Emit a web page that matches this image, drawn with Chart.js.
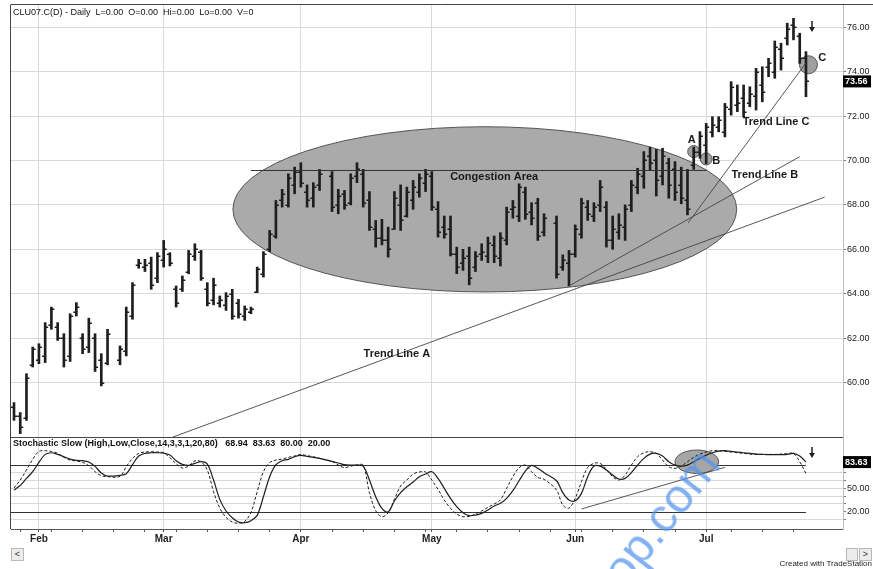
<!DOCTYPE html>
<html>
<head>
<meta charset="utf-8">
<script src="https://cdn.jsdelivr.net/npm/chart.js@4.4.1/dist/chart.umd.min.js"></script>
<style>
  html, body { margin: 0; padding: 0; background: #fff; }
  #wrap { position: relative; width: 873px; height: 569px; overflow: hidden; font-family: "Liberation Sans", Arial, sans-serif; }
  canvas { position: absolute; left: 0; }
  #price { top: 0; }
  #stoch { top: 437px; }
  .btn { position: absolute; top: 548px; height: 11px; background: #ececec; border: 1px solid #b8b8b8; font-size: 9px; line-height: 11px; text-align: center; color: #333; }
  #credit { position: absolute; right: 1px; top: 559px; font-size: 8px; color: #222; }
  #mark { position: absolute; left: 626px; top: 590px; font: 48px "Liberation Sans", sans-serif; line-height: 48px; color: rgba(80, 145, 235, 0.7); transform-origin: 0 0; transform: rotate(-52deg) translateY(-41px); white-space: nowrap; pointer-events: none; }
</style>
</head>
<body>
<div id="wrap">
  <canvas id="price" width="873" height="437"></canvas>
  <canvas id="stoch" width="873" height="132"></canvas>
  <div class="btn" style="left:11px;width:11px;">&lt;</div>
  <div class="btn" style="left:846px;width:10px;"></div>
  <div class="btn" style="left:859px;width:11px;">&gt;</div>
  <div id="credit">Created with TradeStation</div>
  <div id="mark">op.com</div>
</div>
<script>
// trading days shown on the chart (holidays kept as empty slots)
const monthNames = ['Jan', 'Feb', 'Mar', 'Apr', 'May', 'Jun', 'Jul'];
const monthDays = {
    Jan: [26, 29, 30, 31],
    Feb: [1, 2, 5, 6, 7, 8, 9, 12, 13, 14, 15, 16, 19, 20, 21, 22, 23, 26, 27, 28],
    Mar: [1, 2, 5, 6, 7, 8, 9, 12, 13, 14, 15, 16, 19, 20, 21, 22, 23, 26, 27, 28, 29, 30],
    Apr: [2, 3, 4, 5, 6, 9, 10, 11, 12, 13, 16, 17, 18, 19, 20, 23, 24, 25, 26, 27, 30],
    May: [1, 2, 3, 4, 7, 8, 9, 10, 11, 14, 15, 16, 17, 18, 21, 22, 23, 24, 25, 28, 29, 30, 31],
    Jun: [1, 4, 5, 6, 7, 8, 11, 12, 13, 14, 15, 18, 19, 20, 21, 22, 25, 26, 27, 28, 29],
    Jul: [2, 3, 5, 6, 9, 10, 11, 12, 13, 16, 17, 18, 19, 20, 23, 24, 25]
};

const highs = [
    59.1, 58.65, 60.4, 61.6, 61.75, 62.7, 63.4, 62.7, 62.2, 63.1,
    63.6, 62.2, 62.9, 62.2, 61.3, 62.4, null, 61.65, 63.4, 64.5,
    65.55, 65.55, 65.65, 65.85, 66.4, 65.85, 64.35, 64.8, 65.95, 66.25,
    65.95, 64.5, 64.7, 63.9, 64.05, 64.2, 63.75, 63.45, 63.4, 65.2,
    65.9, 66.85, 68.2, 68.7, 69.4, 69.7, 69.9, 68.9, 69.0, 69.6,
    null, 69.5, 68.7, 68.65, 69.4, 69.9, 69.6, 68.6, 67.3, 67.35,
    67.0, 68.6, 68.9, 68.8, 69.1, 69.4, 69.6, 69.5, 68.15, 67.5,
    67.5, 66.1, 66.0, 66.1, 65.9, 66.25, 66.55, 66.6, 66.75, 67.9,
    68.2, 68.95, 68.8, 68.1, 68.3, 67.6, null, 67.5, 65.75, 65.95,
    67.1, 68.3, 68.2, 68.1, 69.1, 68.15, 67.5, 67.6, 68.0, 69.1,
    69.65, 70.4, 70.6, 70.5, 70.55, 70.1, 69.95, 69.7, 69.6, 70.6,
    71.3, 71.67, 71.97, 71.97, 72.57, 73.55, 73.4, 73.4, 73.32, 74.15,
    74.22, 74.6, 75.38, 75.28, 76.18, 76.4, 75.73, 74.9
];
const lows = [
    58.3, 57.7, 58.3, 60.7, 60.85, 60.9, 62.4, 61.9, 60.7, 60.95,
    63.0, 61.3, 61.35, 60.5, 59.85, 60.8, null, 60.8, 61.2, 62.85,
    65.15, 65.0, 64.2, 64.5, 65.2, 65.25, 63.4, 64.1, 64.9, 65.5,
    64.6, 63.45, 63.5, 63.4, 63.25, 62.85, 62.9, 62.8, 63.1, 64.05,
    64.75, 65.9, 66.5, 67.9, 67.9, 68.5, 68.8, 67.9, 67.9, 68.65,
    null, 67.7, 67.6, 67.8, 68.0, 69.0, 67.9, 66.85, 66.1, 66.2,
    65.65, 66.9, 66.85, 67.45, 67.8, 68.35, 68.6, 67.75, 66.55, 66.5,
    65.7, 64.9, 65.05, 64.4, 65.0, 65.5, 65.4, 65.4, 65.25, 66.2,
    67.4, 67.25, 67.35, 67.1, 66.4, 66.6, null, 64.7, 65.05, 64.35,
    65.65, 66.5, 67.3, 67.25, 67.7, 66.1, 66.0, 66.45, 66.4, 67.7,
    68.5, 68.75, 69.55, 68.4, 68.9, 68.3, 68.2, 68.05, 67.55, 69.6,
    70.1, 69.86, 71.06, 71.29, 71.06, 72.04, 72.2, 71.97, 72.42, 72.27,
    72.64, 73.77, 73.7, 74.07, 75.2, 75.43, 74.37, 72.87
];
const opens = [
    58.9, 58.5, 58.4, 60.8, 61.0, 61.2, 62.6, 62.5, 62.0, 61.2,
    63.2, 62.0, 61.6, 62.0, 61.0, 60.9, null, 61.0, 61.4, 63.0,
    65.3, 65.2, 65.4, 64.7, 65.5, 65.8, 64.2, 64.2, 65.0, 65.7,
    65.9, 64.2, 63.7, 63.6, 63.5, 64.0, 63.6, 63.0, 63.2, 64.1,
    64.9, 66.0, 66.6, 68.2, 68.0, 68.9, 69.5, 68.6, 68.3, 68.9,
    null, 69.3, 68.0, 68.5, 68.1, 69.3, 69.4, 68.2, 66.9, 66.5,
    66.4, 66.9, 68.0, 67.5, 68.2, 68.6, 69.0, 69.3, 67.8, 67.0,
    66.9, 65.8, 65.4, 65.7, 65.2, 65.8, 65.7, 66.2, 65.6, 66.4,
    67.8, 67.5, 68.6, 67.7, 68.1, 66.8, null, 67.2, 65.2, 65.4,
    65.8, 66.7, 67.9, 67.5, 68.0, 67.9, 66.4, 66.8, 67.0, 68.0,
    68.8, 69.3, 70.2, 70.0, 69.3, 69.9, 69.6, 68.9, 68.2, 69.8,
    70.4, 70.7, 71.3, 71.5, 71.3, 72.3, 72.5, 72.8, 72.6, 72.9,
    73.4, 74.2, 74.0, 75.0, 75.5, 76.1, 75.6, 74.6
];
const closes = [
    58.5, 58.0, 60.2, 61.5, 61.6, 62.5, 63.3, 62.0, 61.0, 63.0,
    63.4, 61.5, 62.7, 60.7, 60.0, 62.2, null, 61.5, 63.2, 64.4,
    65.4, 65.3, 64.4, 65.7, 66.0, 65.4, 63.6, 64.6, 65.8, 66.0,
    64.7, 63.6, 64.4, 63.7, 63.9, 63.0, 63.1, 63.3, 63.3, 65.1,
    65.8, 66.7, 68.0, 68.5, 69.2, 69.5, 69.0, 68.2, 68.8, 69.4,
    null, 67.9, 68.4, 68.0, 69.2, 69.6, 68.1, 67.0, 66.5, 66.4,
    66.0, 68.3, 67.3, 68.6, 68.8, 69.2, 69.4, 67.9, 66.8, 66.7,
    65.8, 65.2, 65.6, 64.7, 65.7, 65.9, 66.3, 65.7, 66.5, 67.7,
    67.9, 68.8, 67.6, 67.4, 66.6, 67.4, null, 64.9, 65.5, 65.8,
    66.9, 68.1, 67.6, 67.9, 68.8, 66.4, 66.9, 67.1, 67.8, 68.9,
    69.4, 70.0, 69.9, 69.1, 70.2, 68.9, 68.6, 68.3, 67.8, 70.4,
    71.1, 71.5, 71.6, 71.8, 72.4, 73.3, 72.6, 72.2, 73.0, 74.0,
    73.1, 74.4, 75.1, 74.6, 75.9, 76.0, 74.6, 73.56
];

// Stochastic Slow: %K (dotted) and %D (solid)
const slowK = [
    50.3, 60.6, 73.4, 87.1, 97.3, 98.2, 97.3, 94.8, 89.7, 86.2,
    85.0, 83.3, 79.0, 71.3, 66.2, 64.9, null, 65.3, 77.7, 88.4,
    94.8, 96.5, 96.9, 96.5, 95.6, 89.2, 81.5, 76.0, 78.5, 85.0,
    84.1, 73.4, 45.6, 24.7, 12.7, 6.8, 5.1, 7.6, 19.1, 45.6,
    71.3, 82.8, 86.2, 87.5, 89.7, 91.4, 93.5, 91.8, 90.5, 88.4,
    null, 84.5, 79.8, 76.4, 78.5, 79.8, 79.8, 44.4, 21.3, 13.6,
    18.7, 35.8, 52.9, 60.6, 68.3, 70.9, 70.9, 60.6, 48.6, 35.0,
    24.3, 17.0, 13.6, 14.0, 17.0, 20.9, 25.6, 29.8, 35.0, 49.9,
    64.9, 76.4, 79.8, 71.3, 64.0, 61.5, null, 47.8, 28.5, 24.7,
    37.1, 58.5, 76.8, 82.0, 82.0, 74.3, 64.9, 60.6, 67.0, 79.8,
    90.5, 95.6, 96.9, 94.8, 86.2, 77.7, 75.6, 78.5, 84.1, 89.7,
    93.9, 96.5, 98.2, 98.2, 97.3, 96.5, 95.6, 94.8, 93.9, 93.5,
    93.5, 93.5, 93.5, 93.9, 94.4, 94.8, 84.1, 68.94
];
const slowD = [
    47.8, 53.8, 62.7, 71.3, 83.3, 93.5, 95.6, 93.5, 90.5, 87.5,
    85.8, 85.4, 83.7, 78.1, 69.6, 65.7, null, 66.6, 68.7, 80.3,
    91.4, 94.8, 95.6, 95.6, 95.2, 92.6, 85.4, 80.7, 79.4, 82.0,
    84.1, 81.1, 60.6, 35.8, 20.9, 12.3, 6.8, 5.9, 8.5, 15.3,
    39.2, 64.9, 80.3, 85.4, 87.1, 90.5, 92.2, 90.9, 89.7, 88.4,
    null, 84.5, 82.4, 80.3, 79.8, 79.8, 78.5, 60.6, 39.2, 24.3,
    20.0, 33.7, 44.4, 52.0, 58.0, 64.9, 68.3, 71.3, 62.7, 49.9,
    37.1, 26.4, 18.7, 14.9, 15.7, 17.9, 22.1, 27.3, 30.7, 37.1,
    46.9, 59.7, 72.1, 79.4, 75.6, 70.0, null, 59.7, 44.4, 35.0,
    34.1, 43.5, 64.9, 78.5, 78.5, 73.4, 67.0, 61.9, 62.7, 70.0,
    79.8, 88.4, 93.9, 94.8, 91.4, 84.1, 79.8, 78.5, 79.8, 84.1,
    88.4, 92.6, 95.6, 97.8, 98.2, 97.3, 96.5, 95.6, 94.8, 93.9,
    93.5, 93.1, 93.1, 93.1, 93.5, 94.8, 91.4, 83.63
];

const priceTicks = [60, 62, 64, 66, 68, 70, 72, 74, 76];
const stochGrid = [10, 20, 30, 40, 50, 60, 70, 80];
const stochLabels = [20, 50];
const stochLevels = [20, 80];

// annotations, in bar index / price units
const congestion = { x: 75.5, y: 67.8, rx: 40.4, ry: 3.72 };
const congestionLine = { from: 38, to: 111, y: 69.55 };
const trendLines = [
    [[25.5, 57.55], [130.0, 68.35]],
    [[89, 64.35], [126, 70.17]],
    [[108.1, 67.19], [127, 74.39]]
];
const circles = [
    { x: 109, y: 70.4, r: 6 },
    { x: 111, y: 70.07, r: 6 },
    { x: 127.4, y: 74.31, r: 9 }
];
const notes = [
    { text: 'Congestion Area', x: 77.0, y: 69.25 },
    { text: 'Trend Line A', x: 61.4, y: 61.31 },
    { text: 'Trend Line B', x: 120.4, y: 69.35 },
    { text: 'Trend Line C', x: 122.2, y: 71.74 },
    { text: 'A', x: 108.7, y: 70.93 },
    { text: 'B', x: 112.6, y: 69.98 },
    { text: 'C', x: 129.6, y: 74.63 }
];
const stochEllipse = { x: 109.5, y: 84.1, rx: 3.5, ry: 15 };
const stochTrend = [[91, 23.5], [114, 76.9]];

const labels = [];
const monthStarts = [];
const mondays = [];
const monthAt = {};
monthNames.forEach((m, mi) => {
    monthDays[m].forEach((d, k) => {
        if (k === 0 && m !== 'Jan') { monthStarts.push(labels.length); monthAt[labels.length] = m; }
        if (new Date(2007, mi, d).getDay() === 1) mondays.push(labels.length);
        labels.push(m + ' ' + d);
    });
});
const xTicks = [...new Set(monthStarts.concat(mondays))].sort((a, b) => a - b);

const X_MIN = -0.48;
const X_MAX = 132.94;
const FONT = '"Liberation Sans", Arial, sans-serif';
const INK = '#1e1e1e';
const GRID = '#d9d9d9';

const bars = [];
highs.forEach((h, i) => { if (h != null) bars.push({ x: i, y: [lows[i], h] }); });
const lastClose = closes[closes.length - 1];
const lastK = slowK[slowK.length - 1];
const lastD = slowD[slowD.length - 1];

// keep the plot area exactly where the layout padding puts it
function noLabelPadding(s) {
    s.width = 30;
    s.paddingTop = 0;
    s.paddingBottom = 0;
}

function downArrow(ctx, x, y) {
    ctx.beginPath();
    ctx.moveTo(x, y);
    ctx.lineTo(x, y + 7);
    ctx.strokeStyle = INK;
    ctx.lineWidth = 1.5;
    ctx.stroke();
    ctx.beginPath();
    ctx.moveTo(x - 3, y + 6);
    ctx.lineTo(x + 3, y + 6);
    ctx.lineTo(x, y + 11);
    ctx.closePath();
    ctx.fillStyle = INK;
    ctx.fill();
}

function valueBox(ctx, text, y) {
    ctx.fillStyle = '#000';
    ctx.fillRect(843, y - 6, 28, 12);
    ctx.fillStyle = '#fff';
    ctx.font = 'bold 9px ' + FONT;
    ctx.textAlign = 'left';
    ctx.textBaseline = 'middle';
    ctx.fillText(text, 845, y + 0.5);
}

new Chart(document.getElementById('price'), {
    type: 'bar',
    data: {
        datasets: [{
            data: bars,
            backgroundColor: INK,
            borderWidth: 0,
            barThickness: 2
        }]
    },
    options: {
        responsive: false,
        animation: false,
        layout: { padding: { left: 11, top: 5, right: 0, bottom: 0 } },
        plugins: {
            legend: { display: false },
            tooltip: { enabled: false }
        },
        scales: {
            x: {
                type: 'linear',
                min: X_MIN,
                max: X_MAX,
                offset: false,
                afterBuildTicks: s => { s.ticks = monthStarts.map(v => ({ value: v })); },
                afterFit: s => { s.height = 0; },
                grid: { color: GRID, drawTicks: false, offset: false },
                border: { display: false },
                ticks: { display: false }
            },
            y: {
                position: 'right',
                min: 57.55,
                max: 77.0,
                afterBuildTicks: s => { s.ticks = priceTicks.map(v => ({ value: v })); },
                afterFit: noLabelPadding,
                grid: { color: GRID, tickLength: 3, tickColor: '#777' },
                border: { color: '#bdbdbd' },
                ticks: {
                    autoSkip: false,
                    color: '#222',
                    padding: 1,
                    font: { size: 9, family: FONT },
                    callback: v => v.toFixed(2)
                }
            }
        }
    },
    plugins: [{
        id: 'shapesBelow',
        beforeDatasetsDraw(chart) {
            const { ctx, scales: { x, y } } = chart;
            ctx.save();
            const cx = x.getPixelForValue(congestion.x);
            const cy = y.getPixelForValue(congestion.y);
            const rx = x.getPixelForValue(congestion.x + congestion.rx) - cx;
            const ry = cy - y.getPixelForValue(congestion.y + congestion.ry);
            ctx.beginPath();
            ctx.ellipse(cx, cy, rx, ry, 0, 0, Math.PI * 2);
            ctx.fillStyle = '#aaaaaa';
            ctx.fill();
            ctx.strokeStyle = '#555';
            ctx.lineWidth = 1;
            ctx.stroke();
            circles.forEach(c => {
                ctx.beginPath();
                ctx.arc(x.getPixelForValue(c.x), y.getPixelForValue(c.y), c.r, 0, Math.PI * 2);
                ctx.fillStyle = '#a0a0a0';
                ctx.fill();
                ctx.strokeStyle = '#555';
                ctx.stroke();
            });
            ctx.restore();
        }
    }, {
        id: 'ohlcTicks',
        afterDatasetsDraw(chart) {
            const { ctx, scales: { x, y } } = chart;
            ctx.save();
            ctx.strokeStyle = INK;
            ctx.lineWidth = 1.5;
            ctx.beginPath();
            highs.forEach((h, i) => {
                if (h == null) return;
                const px = x.getPixelForValue(i);
                const yo = Math.round(y.getPixelForValue(opens[i])) + 0.25;
                const yc = Math.round(y.getPixelForValue(closes[i])) + 0.25;
                ctx.moveTo(px - 3, yo);
                ctx.lineTo(px, yo);
                ctx.moveTo(px, yc);
                ctx.lineTo(px + 3, yc);
            });
            ctx.stroke();
            ctx.restore();
        }
    }, {
        id: 'shapesAbove',
        afterDraw(chart) {
            const { ctx, chartArea, scales: { x, y } } = chart;
            ctx.save();
            ctx.strokeStyle = '#333';
            ctx.lineWidth = 1;
            ctx.beginPath();
            const ly = y.getPixelForValue(congestionLine.y);
            ctx.moveTo(x.getPixelForValue(congestionLine.from), ly);
            ctx.lineTo(x.getPixelForValue(congestionLine.to), ly);
            ctx.stroke();

            ctx.strokeStyle = '#444';
            ctx.lineWidth = 0.9;
            trendLines.forEach(([a, b]) => {
                ctx.beginPath();
                ctx.moveTo(x.getPixelForValue(a[0]), y.getPixelForValue(a[1]));
                ctx.lineTo(x.getPixelForValue(b[0]), y.getPixelForValue(b[1]));
                ctx.stroke();
            });

            ctx.fillStyle = '#1a1a1a';
            ctx.font = 'bold 11px ' + FONT;
            ctx.textAlign = 'center';
            ctx.textBaseline = 'middle';
            notes.forEach(n => ctx.fillText(n.text, x.getPixelForValue(n.x), y.getPixelForValue(n.y)));

            // frame
            ctx.strokeStyle = '#444';
            ctx.lineWidth = 1;
            ctx.beginPath();
            ctx.moveTo(chartArea.left - 0.5, chartArea.top);
            ctx.lineTo(chartArea.left - 0.5, chartArea.bottom);
            ctx.moveTo(chartArea.left - 0.5, chartArea.top - 0.5);
            ctx.lineTo(873, chartArea.top - 0.5);
            ctx.stroke();

            ctx.fillStyle = '#111';
            ctx.font = '9px ' + FONT;
            ctx.textAlign = 'left';
            ctx.textBaseline = 'middle';
            ctx.fillText('CLU07.C(D) - Daily  L=0.00  O=0.00  Hi=0.00  Lo=0.00  V=0', 13, 13);

            downArrow(ctx, 812, 21);
            valueBox(ctx, lastClose.toFixed(2), y.getPixelForValue(lastClose));
            ctx.restore();
        }
    }]
});

new Chart(document.getElementById('stoch'), {
    type: 'line',
    data: {
        datasets: [{
            data: slowD.map((v, i) => ({ x: i, y: v })),
            borderColor: INK,
            borderWidth: 1.2,
            pointRadius: 0,
            tension: 0.35,
            spanGaps: true
        }, {
            data: slowK.map((v, i) => ({ x: i, y: v })),
            borderColor: INK,
            borderWidth: 1,
            borderDash: [3, 2],
            pointRadius: 0,
            tension: 0.35,
            spanGaps: true
        }]
    },
    options: {
        responsive: false,
        animation: false,
        layout: { padding: { left: 11, top: 0, right: 0, bottom: 0 } },
        plugins: {
            legend: { display: false },
            tooltip: { enabled: false }
        },
        scales: {
            x: {
                type: 'linear',
                min: X_MIN,
                max: X_MAX,
                offset: false,
                afterBuildTicks: s => { s.ticks = xTicks.map(v => ({ value: v })); },
                afterFit: s => { s.height = 40; s.paddingLeft = 0; s.paddingRight = 0; },
                grid: {
                    color: c => (c.tick && monthAt[c.tick.value]) ? GRID : 'rgba(0,0,0,0)',
                    tickColor: '#555',
                    tickLength: 3,
                    offset: false
                },
                border: { color: '#555' },
                ticks: {
                    autoSkip: false,
                    maxRotation: 0,
                    padding: 1,
                    color: '#222',
                    font: { size: 10, weight: 'bold', family: FONT },
                    callback: v => monthAt[v] || ''
                }
            },
            y: {
                position: 'right',
                min: -2.2,
                max: 115.8,
                afterBuildTicks: s => { s.ticks = stochGrid.map(v => ({ value: v })); },
                afterFit: noLabelPadding,
                grid: {
                    color: c => (c.tick && stochLevels.includes(c.tick.value)) ? 'rgba(0,0,0,0)' : GRID,
                    tickLength: 3,
                    tickColor: '#777'
                },
                border: { color: '#bdbdbd' },
                ticks: {
                    autoSkip: false,
                    color: '#222',
                    padding: 1,
                    font: { size: 9, family: FONT },
                    callback: v => stochLabels.includes(v) ? v.toFixed(2) : ''
                }
            }
        }
    },
    plugins: [{
        id: 'stochBelow',
        beforeDatasetsDraw(chart) {
            const { ctx, chartArea, scales: { x, y } } = chart;
            ctx.save();
            const endX = x.getPixelForValue(highs.length - 1);
            ctx.strokeStyle = '#333';
            ctx.lineWidth = 1.2;
            stochLevels.forEach(v => {
                const ly = Math.round(y.getPixelForValue(v)) + 0.5;
                ctx.beginPath();
                ctx.moveTo(chartArea.left, ly);
                ctx.lineTo(endX, ly);
                ctx.stroke();
            });
            const cx = x.getPixelForValue(stochEllipse.x);
            const cy = y.getPixelForValue(stochEllipse.y);
            const rx = x.getPixelForValue(stochEllipse.x + stochEllipse.rx) - cx;
            const ry = cy - y.getPixelForValue(stochEllipse.y + stochEllipse.ry);
            ctx.beginPath();
            ctx.ellipse(cx, cy, rx, ry, 0, 0, Math.PI * 2);
            ctx.fillStyle = '#a6a6a6';
            ctx.fill();
            ctx.strokeStyle = '#555';
            ctx.lineWidth = 1;
            ctx.stroke();
            ctx.restore();
        },
        afterDraw(chart) {
            const { ctx, chartArea, scales: { x, y } } = chart;
            ctx.save();
            ctx.strokeStyle = '#444';
            ctx.lineWidth = 0.9;
            ctx.beginPath();
            ctx.moveTo(x.getPixelForValue(stochTrend[0][0]), y.getPixelForValue(stochTrend[0][1]));
            ctx.lineTo(x.getPixelForValue(stochTrend[1][0]), y.getPixelForValue(stochTrend[1][1]));
            ctx.stroke();

            ctx.strokeStyle = '#444';
            ctx.lineWidth = 1;
            ctx.beginPath();
            ctx.moveTo(chartArea.left - 0.5, 0);
            ctx.lineTo(chartArea.left - 0.5, chartArea.bottom);
            ctx.moveTo(chartArea.left, 0.5);
            ctx.lineTo(chartArea.right, 0.5);
            ctx.stroke();

            ctx.fillStyle = '#111';
            ctx.font = 'bold 9px ' + FONT;
            ctx.textAlign = 'left';
            ctx.textBaseline = 'middle';
            ctx.fillText('Stochastic Slow (High,Low,Close,14,3,3,1,20,80)   ' + lastK.toFixed(2) + '  ' +
                lastD.toFixed(2) + '  80.00  20.00', 13, 7);

            downArrow(ctx, 812, 10);
            valueBox(ctx, lastD.toFixed(2), y.getPixelForValue(lastD));
            ctx.restore();
        }
    }]
});
</script>
</body>
</html>
